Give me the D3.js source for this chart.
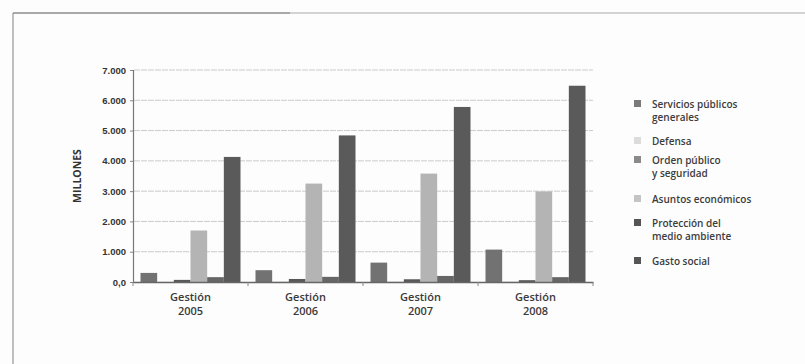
<!DOCTYPE html>
<html>
<head>
<meta charset="utf-8">
<script src="https://cdn.jsdelivr.net/npm/d3@7"></script>
<style>
  html, body { margin: 0; padding: 0; background: #fdfdfd; }
  svg { display: block; font-family: "Open Sans", Lato, sans-serif; }
</style>
</head>
<body>
<svg id="chart" width="805" height="364"></svg>
<script>
// Gasto por función (millones), gestiones 2005–2008
const categories = ["Gestión 2005", "Gestión 2006", "Gestión 2007", "Gestión 2008"];
const seriesNames = [
  "Servicios públicos generales",
  "Defensa",
  "Orden público y seguridad",
  "Asuntos económicos",
  "Protección del medio ambiente",
  "Gasto social"
];
const serviciosPublicos = [300, 390, 640, 1070];
const defensa           = [15, 20, 20, 20];
const ordenPublico      = [70, 100, 90, 60];
const asuntosEconomicos = [1700, 3250, 3580, 2990];
const proteccionMedio   = [160, 170, 200, 160];
const gastoSocial       = [4130, 4840, 5780, 6480];
const yTicks = [0, 1000, 2000, 3000, 4000, 5000, 6000, 7000];
const yTickLabels = ["0,0", "1.000", "2.000", "3.000", "4.000", "5.000", "6.000", "7.000"];
const legendLines = [
  ["Servicios públicos", "generales"],
  ["Defensa"],
  ["Orden público", "y seguridad"],
  ["Asuntos económicos"],
  ["Protección del", "medio ambiente"],
  ["Gasto social"]
];

const values = [serviciosPublicos, defensa, ordenPublico, asuntosEconomicos, proteccionMedio, gastoSocial];
const barColors = ["#727272", "#e2e2e2", "#585858", "#b4b4b4", "#666666", "#5a5a5a"];
const legendColors = ["#7a7a7a", "#dcdcdc", "#8a8a8a", "#c4c4c4", "#555555", "#555555"];

const svg = d3.select("#chart");

// page frame
svg.append("line").attr("x1", 13).attr("x2", 13).attr("y1", 13).attr("y2", 364)
  .attr("stroke", "#a8a8a8").attr("stroke-width", 1.5);
svg.append("line").attr("x1", 13).attr("x2", 290).attr("y1", 13).attr("y2", 13)
  .attr("stroke", "#8c8c8c").attr("stroke-width", 1.5);
svg.append("line").attr("x1", 290).attr("x2", 805).attr("y1", 13).attr("y2", 13)
  .attr("stroke", "#c4c4c4").attr("stroke-width", 1.5);

const plotLeft = 133, plotRight = 593, plotTop = 70, plotBottom = 282;

const x0 = d3.scaleBand().domain(categories).range([plotLeft, plotRight]).paddingInner(0).paddingOuter(0);
const x1 = d3.scaleBand().domain(d3.range(seriesNames.length))
  .range([7.5, x0.bandwidth() - 7.5]).padding(0);
const y = d3.scaleLinear().domain([0, 7000]).range([plotBottom, plotTop]);

// gridlines
svg.append("g").selectAll("line").data(yTicks.slice(1)).join("line")
  .attr("x1", plotLeft + 1).attr("x2", plotRight)
  .attr("y1", d => y(d)).attr("y2", d => y(d))
  .attr("stroke", "#cbcbcb").attr("stroke-width", 1)
  .attr("stroke-dasharray", "6,1");

// bars
const groups = svg.append("g").selectAll("g").data(categories).join("g")
  .attr("transform", d => `translate(${x0(d)},0)`);
groups.selectAll("rect")
  .data((c, ci) => values.map((s, si) => ({ si, v: s[ci] })))
  .join("rect")
  .attr("x", d => x1(d.si))
  .attr("width", x1.bandwidth())
  .attr("y", d => y(d.v))
  .attr("height", d => y(0) - y(d.v))
  .attr("fill", d => barColors[d.si]);

// y axis
const yAxis = d3.axisLeft(y).tickValues(yTicks)
  .tickFormat((d, i) => yTickLabels[i]).tickSize(3).tickPadding(4);
const gy = svg.append("g").attr("transform", `translate(${plotLeft},0)`).call(yAxis);
gy.select(".domain").attr("stroke", "#777").attr("stroke-width", 1.2);
gy.selectAll(".tick line").attr("stroke", "#888");
gy.selectAll("text").attr("fill", "#333").attr("font-size", 9.5).attr("font-weight", 700);

// x axis
const xAxis = d3.axisBottom(x0).tickSize(0).tickFormat("");
const gx = svg.append("g").attr("transform", `translate(0,${plotBottom})`).call(xAxis);
gx.select(".domain").attr("stroke", "#666").attr("stroke-width", 1.5);
svg.append("g").selectAll("line").data(categories.concat([null])).join("line")
  .attr("x1", (d, i) => plotLeft + i * x0.step()).attr("x2", (d, i) => plotLeft + i * x0.step())
  .attr("y1", plotBottom).attr("y2", plotBottom + 4)
  .attr("stroke", "#888");

const xl = svg.append("g").selectAll("text").data(categories).join("text")
  .attr("text-anchor", "middle")
  .attr("fill", "#3a3a3a").attr("font-size", 11).attr("font-weight", 600);
xl.each(function(d) {
  const parts = d.split(" ");
  const t = d3.select(this);
  const cx = x0(d) + x0.bandwidth() / 2;
  t.append("tspan").attr("x", cx).attr("y", 301).text(parts[0]);
  t.append("tspan").attr("x", cx).attr("y", 315).text(parts[1]);
});

// axis title
svg.append("text")
  .attr("transform", "translate(81,176) rotate(-90)")
  .attr("text-anchor", "middle")
  .attr("fill", "#333").attr("font-size", 10.5).attr("font-weight", 700)
  .text("MILLONES");

// legend
const legendY = [104, 141, 160, 199, 223, 261];
const lg = svg.append("g").selectAll("g").data(seriesNames).join("g")
  .attr("transform", (d, i) => `translate(634,${legendY[i]})`);
lg.append("rect").attr("x", 0).attr("y", -4).attr("width", 7).attr("height", 7)
  .attr("fill", (d, i) => legendColors[i]);
lg.append("text")
  .attr("fill", "#3c3c3c").attr("font-size", 10).attr("font-weight", 600)
  .each(function(d, i) {
    const t = d3.select(this);
    legendLines[i].forEach((line, j) => {
      t.append("tspan").attr("x", 18).attr("y", 3.5 + j * 13).text(line);
    });
  });
</script>
</body>
</html>
